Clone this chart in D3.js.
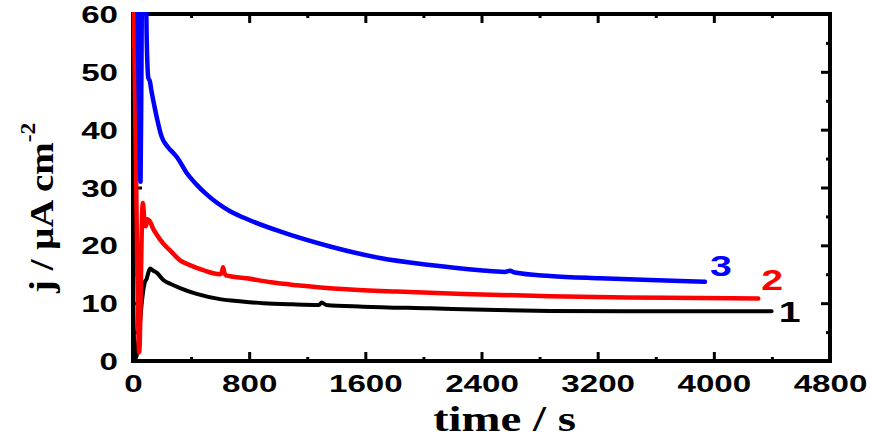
<!DOCTYPE html>
<html><head><meta charset="utf-8">
<script src="https://cdn.jsdelivr.net/npm/d3@7"></script>
<style>
html,body{margin:0;padding:0;background:#fff;}
svg{display:block;}
</style></head>
<body>
<script>
// ---- data (time in s, current density in µA cm^-2) ----
const xTicks = [0, 800, 1600, 2400, 3200, 4000, 4800];
const xMinorTicks = [400, 1200, 2000, 2800, 3600, 4400];
const yTicks = [0, 10, 20, 30, 40, 50, 60];
const yMinorTicks = [5, 15, 25, 35, 45, 55];
const xLabel = "time / s";
const yLabelMain = "j / μA cm";
const yLabelSup = "-2";
const seriesNames = ["1", "2", "3"];
const seriesColors = ["#000000", "#ff0000", "#0000ff"];

const curve1 = [[0,14],[8,3],[20,0.5],[40,4],[60,10],[80,13.5],[95,14.3],[105,15.2],[117,16],[140,15.6],[163,15.3],[209,14.0],[260,13.3],[324,12.6],[438,11.6],[599,10.7],[750,10.3],[897,10.0],[1100,9.8],[1280,9.7],[1300,10.1],[1330,9.7],[1586,9.4],[2045,9.1],[2504,8.8],[2872,8.65],[3400,8.6],[3900,8.6],[4398,8.6]];
const curve2 = [[0,70],[15,45],[30,15],[43,1.5],[52,10],[62,25],[68,27.3],[78,24.5],[88,23.3],[100,24.5],[115,24.2],[140,22.8],[165,21.8],[209,20.3],[260,19.0],[324,17.4],[400,16.5],[484,15.7],[600,15.0],[612,15.3],[620,16.2],[630,15.2],[640,14.8],[783,14.3],[950,13.6],[1127,13.1],[1472,12.4],[1816,12.0],[2275,11.6],[2872,11.2],[3400,11.0],[3900,10.9],[4306,10.8]];
const curve3 = [[25,70],[40,45],[52,31],[58,50],[64,70],[85,70],[95,55],[105,49],[117,48.3],[125,47],[140,45],[163,42.2],[197,38.8],[240,37],[276,36],[301,35.3],[370,32.5],[438,30.5],[507,28.8],[576,27.4],[668,25.9],[760,24.8],[1012,22.4],[1357,19.8],[1701,17.8],[2045,16.6],[2390,15.7],[2560,15.4],[2596,15.6],[2630,15.3],[2872,14.7],[3216,14.3],[3560,14.0],[3939,13.7]];
const allCurves = [curve1, curve2, curve3];

// ---- layout ----
const W = 870, H = 442;
const L = 133, R = 830, T = 14, B = 361;
const SX = 1.38; // horizontal glyph stretch of the original figure

const svg = d3.select("body").append("svg").attr("width", W).attr("height", H);
const x = d3.scaleLinear().domain([0, 4800]).range([L, R]);
const y = d3.scaleLinear().domain([0, 60]).range([B, T]);

svg.append("defs").append("clipPath").attr("id", "clip")
  .append("rect").attr("x", L - 2).attr("y", T - 2).attr("width", R - L + 4).attr("height", B - T + 4);

// frame
svg.append("rect").attr("x", L).attr("y", T).attr("width", R - L).attr("height", B - T)
  .attr("fill", "none").attr("stroke", "#000").attr("stroke-width", 4);

function styleAxis(g) {
  g.select(".domain").remove();
  g.selectAll(".tick line").attr("stroke", "#000").attr("stroke-width", 3);
}
const tickFont = "'Liberation Sans', Arial, sans-serif";

// bottom
const gB = svg.append("g").attr("transform", `translate(0,${B})`)
  .call(d3.axisBottom(x).tickValues(xTicks).tickSize(-9).tickFormat(d3.format("d")));
styleAxis(gB);
gB.selectAll(".tick text").attr("y", 0).attr("dy", null)
  .attr("transform", `translate(0,31) scale(${SX},1)`)
  .attr("font-family", tickFont).attr("font-weight", "bold").attr("font-size", 24).attr("fill", "#000");
svg.append("g").attr("transform", `translate(0,${B})`)
  .call(d3.axisBottom(x).tickValues(xMinorTicks).tickSize(-4).tickFormat("")).call(styleAxis);
// top
svg.append("g").attr("transform", `translate(0,${T})`)
  .call(d3.axisTop(x).tickValues(xTicks).tickSize(-9).tickFormat("")).call(styleAxis);
svg.append("g").attr("transform", `translate(0,${T})`)
  .call(d3.axisTop(x).tickValues(xMinorTicks).tickSize(-4).tickFormat("")).call(styleAxis);
// left
const gL = svg.append("g").attr("transform", `translate(${L},0)`)
  .call(d3.axisLeft(y).tickValues(yTicks).tickSize(-9).tickFormat(d3.format("d")));
styleAxis(gL);
gL.selectAll(".tick text").attr("x", 0).attr("dy", "0.36em")
  .attr("transform", `translate(-15,0) scale(${SX},1)`)
  .attr("font-family", tickFont).attr("font-weight", "bold").attr("font-size", 24).attr("fill", "#000");
svg.append("g").attr("transform", `translate(${L},0)`)
  .call(d3.axisLeft(y).tickValues(yMinorTicks).tickSize(-4).tickFormat("")).call(styleAxis);
// right
svg.append("g").attr("transform", `translate(${R},0)`)
  .call(d3.axisRight(y).tickValues(yTicks).tickSize(-9).tickFormat("")).call(styleAxis);
svg.append("g").attr("transform", `translate(${R},0)`)
  .call(d3.axisRight(y).tickValues(yMinorTicks).tickSize(-4).tickFormat("")).call(styleAxis);

// curves
const line = d3.line().x(d => x(d[0])).y(d => y(d[1])).curve(d3.curveMonotoneX);
const gC = svg.append("g").attr("clip-path", "url(#clip)");
allCurves.forEach((c, i) => {
  gC.append("path").datum(c).attr("d", line)
    .attr("fill", "none").attr("stroke", seriesColors[i])
    .attr("stroke-width", i === 0 ? 4 : 4.5)
    .attr("stroke-linejoin", "round").attr("stroke-linecap", "round");
});

// series labels next to curve ends
const labelOffsets = [[18, 0], [14, -19], [16, -17]];
allCurves.forEach((c, i) => {
  const last = c[c.length - 1];
  svg.append("text")
    .attr("transform", `translate(${x(last[0]) + labelOffsets[i][0]},${y(last[1]) + labelOffsets[i][1]}) scale(${SX * 0.95},1)`)
    .attr("dy", "0.36em").attr("text-anchor", "middle")
    .attr("font-family", tickFont).attr("font-weight", "bold").attr("font-size", 30)
    .attr("fill", seriesColors[i]).text(seriesNames[i]);
});

// axis titles
const serif = "'Liberation Serif', 'Times New Roman', serif";
svg.append("text")
  .attr("transform", `translate(${(L + R) / 2 + 23},431) scale(1.3,1)`)
  .attr("text-anchor", "middle").attr("font-family", serif).attr("font-weight", "bold")
  .attr("font-size", 36).attr("fill", "#000").text(xLabel);

const yt = svg.append("text")
  .attr("transform", `translate(53,293) rotate(-90) scale(1.18,1)`)
  .attr("text-anchor", "start").attr("font-family", serif).attr("font-weight", "bold")
  .attr("font-size", 33).attr("fill", "#000");
yt.append("tspan").text(yLabelMain);
yt.append("tspan").attr("dy", -18).attr("font-size", 20).text(yLabelSup);
</script>
</body></html>
